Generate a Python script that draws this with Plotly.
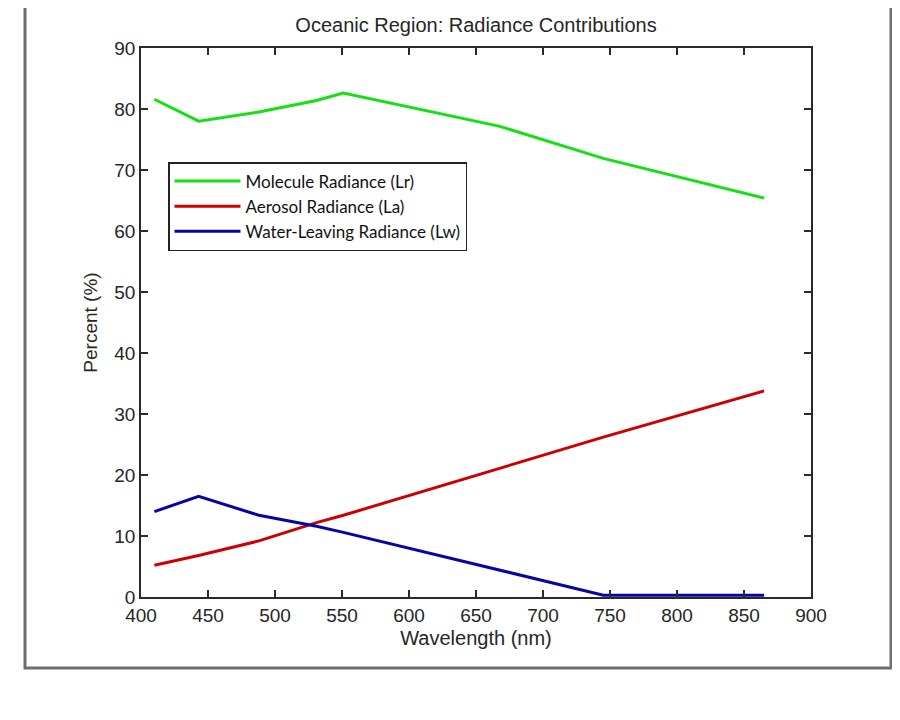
import plotly.graph_objects as go

# Data
wavelength = [410, 443, 488, 531, 551, 667, 745, 865]
molecule_lr = [81.6, 78.0, 79.5, 81.4, 82.6, 77.2, 71.9, 65.4]
aerosol_la = [5.2, 6.8, 9.2, 12.2, 13.4, 21.1, 26.2, 33.8]
water_lw = [14.0, 16.5, 13.4, 11.6, 10.6, 4.4, 0.3, 0.3]

series_names = ["Molecule Radiance (Lr)", "Aerosol Radiance (La)", "Water-Leaving Radiance (Lw)"]
series_colors = ["#14e014", "#cc0000", "#0606a6"]

x_ticks = [400, 450, 500, 550, 600, 650, 700, 750, 800, 850, 900]
y_ticks = [0, 10, 20, 30, 40, 50, 60, 70, 80, 90]

fig = go.Figure()
for name, vals, col in zip(series_names, [molecule_lr, aerosol_la, water_lw], series_colors):
    fig.add_trace(go.Scatter(x=wavelength, y=vals, mode="lines", name=name,
                             line=dict(color=col, width=3)))

FONT = "Liberation Sans, Arial, sans-serif"
tick_font = dict(family=FONT, size=19, color="#262626")
axis_col = "#2a2a2a"

# page body has an 8px margin, so the figure is sized to fit inside it
W, H = 884, 704
L, T = 133, 40
PW, PH = 670, 549

fig.update_layout(
    width=W, height=H,
    paper_bgcolor="white", plot_bgcolor="white",
    margin=dict(l=L, r=W - L - PW, t=T, b=H - T - PH),
    title=dict(text="Oceanic Region: Radiance Contributions", x=0.5, xanchor="center",
               xref="paper", y=1 - 17 / H, yanchor="middle",
               font=dict(family=FONT, size=20, color="#262626")),
    xaxis=dict(range=[400, 900], tickvals=x_ticks, ticktext=[str(v) for v in x_ticks],
               showline=True, mirror="ticks", linecolor=axis_col, linewidth=1.5,
               ticks="inside", ticklen=7, tickcolor=axis_col, tickwidth=1.5,
               showgrid=False, zeroline=False, tickfont=tick_font,
               title=dict(text="Wavelength (nm)", standoff=6,
                          font=dict(family=FONT, size=20, color="#262626"))),
    yaxis=dict(range=[0, 90], tickvals=y_ticks, ticktext=[str(v) for v in y_ticks],
               showline=True, mirror="ticks", linecolor=axis_col, linewidth=1.5,
               ticks="inside", ticklen=7, tickcolor=axis_col, tickwidth=1.5,
               showgrid=False, zeroline=False, tickfont=tick_font,
               title=dict(text="Percent (%)", standoff=12,
                          font=dict(family=FONT, size=19, color="#262626"))),
    legend=dict(x=(168 - 141) / PW, y=(597 - 162) / PH, xanchor="left", yanchor="top",
                bgcolor="white", bordercolor="#222222", borderwidth=1.5,
                font=dict(family="Lato, Open Sans, sans-serif", size=17, color="#111111"),
                itemwidth=66, tracegroupgap=0),
    showlegend=True,
    shapes=[dict(type="rect", xref="paper", yref="paper",
                 x0=(25 - 141) / PW, x1=(891 - 141) / PW,
                 y0=(597 - 668) / PH, y1=(597 + 20) / PH,
                 line=dict(color="#6e6e6e", width=3), fillcolor="rgba(0,0,0,0)", layer="below")],
)

fig.write_html("out.html")
